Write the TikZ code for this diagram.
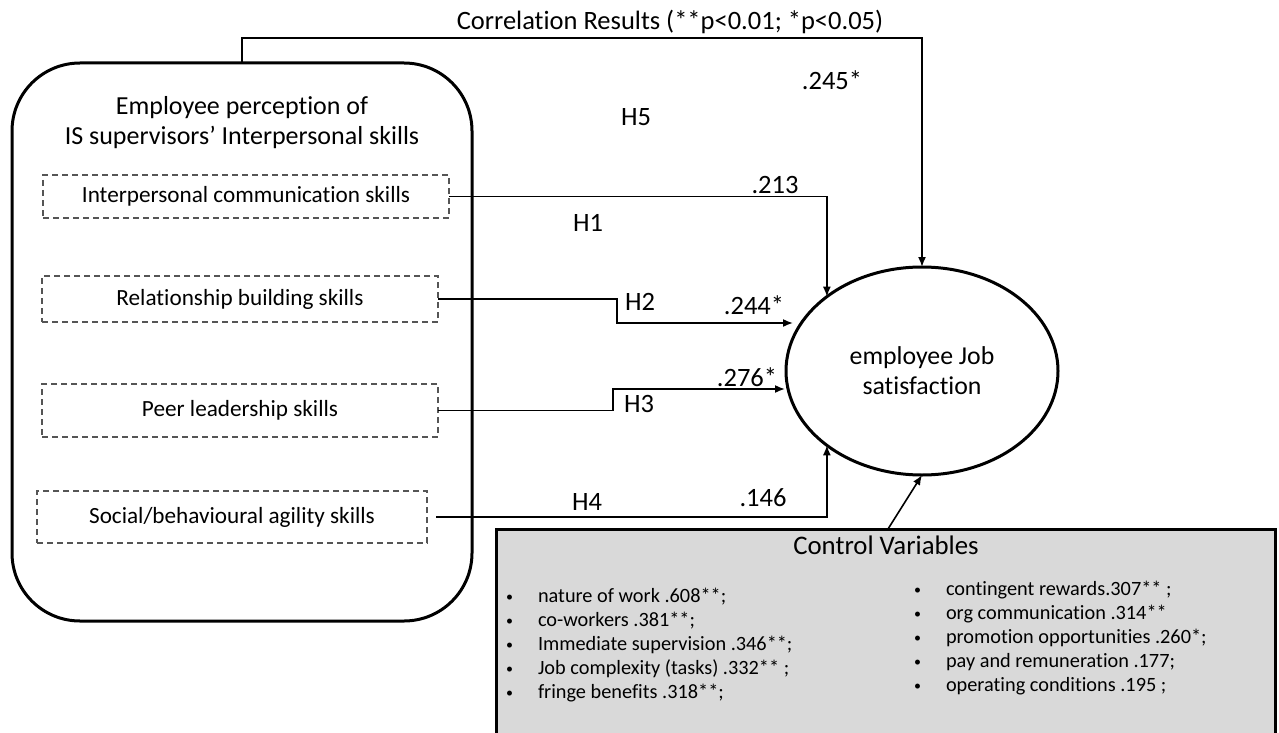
\documentclass[tikz,border=0pt]{standalone}
\usepackage{fontspec}
\setmainfont{Carlito}[RawFeature={-liga}]
\usetikzlibrary{arrows.meta,shapes.geometric,calc}
\definecolor{ctrlgray}{RGB}{217,217,217}
\definecolor{dashgray}{RGB}{85,85,85}
\newcommand{\bul}{\makebox[32pt][l]{\fontsize{14}{14}\selectfont\raisebox{1pt}{•}}}
\begin{document}
\begin{tikzpicture}[x=1pt,y=-1pt,
  every node/.style={inner sep=0pt, outer sep=0pt},
  skillbox/.style={draw=dashgray, line width=1.2pt, dash pattern=on 6pt off 4pt, font=\fontsize{23.2}{27}\selectfont},
  lbl/.style={font=\fontsize{26.5}{30}\selectfont},
  conn/.style={line width=1.6pt, -{Latex[length=10pt,width=8pt]}},
  items/.style={font=\fontsize{20.3}{24.2}\selectfont, align=left, anchor=west}
]
\useasboundingbox (0,0) rectangle (1279,733);

% main container
\node[draw, line width=3pt, rounded corners=68pt, minimum width=460pt, minimum height=558pt] (perc) at (242,342) {};
\node[font=\fontsize{26}{30}\selectfont, align=center] (title) at (242,123) {Employee perception of\\IS supervisors’ Interpersonal skills};

% skill boxes
\node[skillbox, minimum width=406pt, minimum height=43pt] (b1) at (246,196.5) {Interpersonal communication skills};
\node[skillbox, minimum width=396pt, minimum height=46pt] (b2) at (240,299) {Relationship building skills};
\node[skillbox, minimum width=396pt, minimum height=53pt] (b3) at (240,410.5) {Peer leadership skills};
\node[skillbox, minimum width=390pt, minimum height=52pt] (b4) at (232,517) {Social/behavioural agility skills};

% outcome
\node[draw, ellipse, line width=3pt, minimum width=272pt, minimum height=208pt, align=center, font=\fontsize{25.8}{30}\selectfont] (ell) at (922,371) {employee Job\\satisfaction};

% control variables box
\node[draw, line width=3pt, fill=ctrlgray, minimum width=779pt, minimum height=210pt] (ctrl) at (885.5,634) {};
\node[font=\fontsize{26.8}{30}\selectfont] (ctitle) at (886,545) {Control Variables};
\node[items] (cleft) at (506,645) {\bul nature of work .608**;\\
\bul co-workers .381**;\\
\bul Immediate supervision .346**;\\
\bul Job complexity (tasks) .332** ;\\
\bul fringe benefits .318**;};
\node[items] (cright) at (914,638) {\bul contingent rewards.307** ;\\
\bul org communication .314**\\
\bul promotion opportunities .260*;\\
\bul pay and remuneration .177;\\
\bul operating conditions .195 ;};

% coordinates
\coordinate (k2) at (617,323);
\coordinate (e2) at (793,323);
\coordinate (k3) at (613,389);
\coordinate (e3) at (785,389);

% connectors
\draw[conn] (perc.north) -- ++(0,-25) -| (ell.north);
\draw[conn] (b1.east) -| (ell.142);
\draw[conn] (b2.east) -| (k2) -- (e2);
\draw[conn] (b3.east) -| (k3) -- (e3);
\draw[conn, shorten <=9pt] (b4.east) -| (ell.218);
\draw[conn] ([xshift=2.5pt]ctrl.north) -- (ell.south);

% labels
\node[lbl] (corr) at (670,22) {Correlation Results (**p<0.01; *p<0.05)};
\node[lbl] (l245) at (832,80) {.245*};
\node[lbl] (h5) at (636,117) {H5};
\node[lbl] (l213) at (775,185) {.213};
\node[lbl] (h1) at (588,223) {H1};
\node[lbl] (h2) at (640,302) {H2};
\node[lbl] (l244) at (754,305) {.244*};
\node[lbl] (l276) at (747,377) {.276*};
\node[lbl] (h3) at (639,404) {H3};
\node[lbl] (h4) at (587,502) {H4};
\node[lbl] (l146) at (763,498) {.146};
\end{tikzpicture}
\end{document}
